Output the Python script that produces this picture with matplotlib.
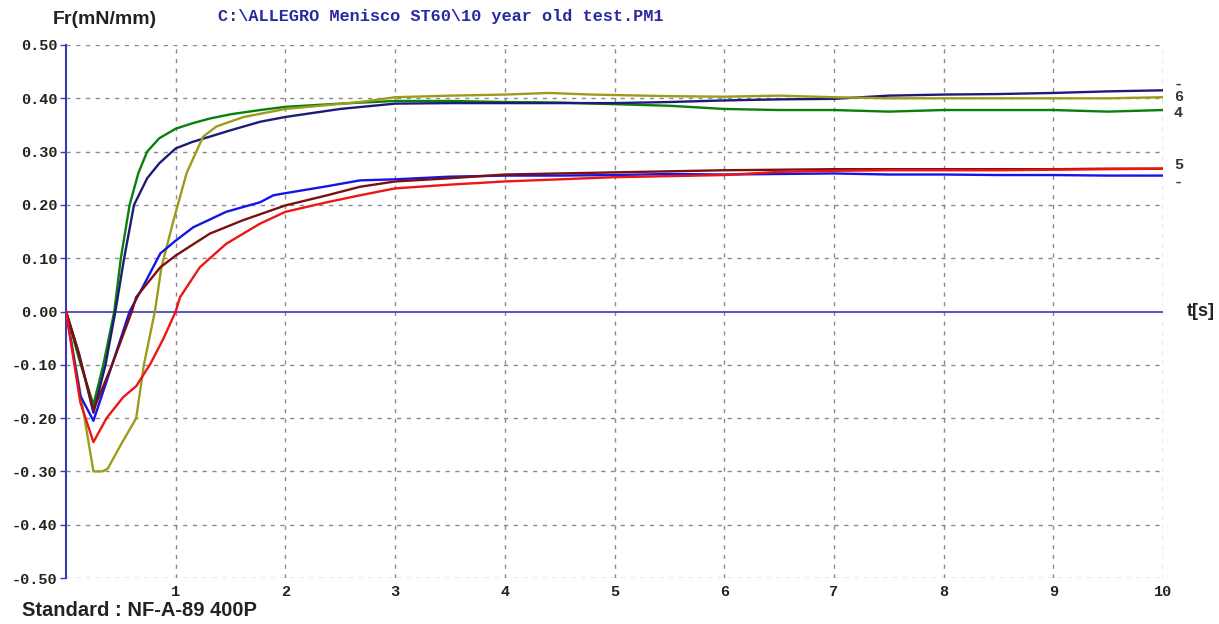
import matplotlib
matplotlib.use("Agg")
import matplotlib.pyplot as plt

# ---- data ----
t_green = [0, 0.12, 0.25, 0.34, 0.44, 0.50, 0.58, 0.66, 0.74, 0.85, 1.0, 1.15, 1.31, 1.5, 1.77, 2.0, 2.5, 3.0, 3.5, 4.0, 4.5, 5.0, 5.5, 6.0, 6.5, 7.0, 7.5, 8.0, 8.5, 9.0, 9.5, 10.0]
v_green = [0, -0.09, -0.175, -0.10, 0.0, 0.10, 0.20, 0.26, 0.30, 0.325, 0.343, 0.353, 0.362, 0.370, 0.378, 0.384, 0.390, 0.395, 0.395, 0.393, 0.392, 0.389, 0.386, 0.380, 0.378, 0.378, 0.375, 0.378, 0.378, 0.378, 0.375, 0.378]

t_navy = [0, 0.12, 0.25, 0.36, 0.45, 0.53, 0.62, 0.74, 0.85, 1.0, 1.15, 1.31, 1.5, 1.77, 2.0, 2.5, 3.0, 3.5, 4.0, 4.5, 5.0, 5.5, 6.0, 6.5, 7.0, 7.5, 8.0, 8.5, 9.0, 9.5, 10.0]
v_navy = [0, -0.08, -0.19, -0.10, 0.0, 0.10, 0.20, 0.25, 0.278, 0.306, 0.318, 0.328, 0.340, 0.356, 0.365, 0.380, 0.390, 0.391, 0.391, 0.391, 0.391, 0.393, 0.396, 0.398, 0.399, 0.405, 0.407, 0.408, 0.410, 0.413, 0.415]

t_olive = [0, 0.12, 0.25, 0.33, 0.38, 0.50, 0.64, 0.71, 0.81, 0.87, 0.98, 1.10, 1.25, 1.37, 1.62, 2.0, 2.68, 3.0, 3.5, 4.0, 4.4, 4.8, 5.5, 6.0, 6.5, 7.0, 7.5, 8.0, 8.5, 9.0, 9.5, 10.0]
v_olive = [0, -0.14, -0.30, -0.30, -0.295, -0.25, -0.20, -0.10, 0.0, 0.083, 0.171, 0.26, 0.328, 0.347, 0.365, 0.380, 0.393, 0.402, 0.405, 0.407, 0.410, 0.407, 0.404, 0.403, 0.405, 0.402, 0.400, 0.400, 0.400, 0.400, 0.400, 0.402]

t_blue = [0, 0.13, 0.25, 0.42, 0.58, 0.70, 0.86, 1.0, 1.16, 1.46, 1.77, 1.89, 2.0, 2.38, 2.68, 3.0, 3.5, 4.0, 4.5, 5.0, 5.5, 6.0, 6.5, 7.0, 7.5, 8.0, 8.5, 9.0, 9.5, 10.0]
v_blue = [0, -0.158, -0.205, -0.10, 0.0, 0.046, 0.109, 0.133, 0.158, 0.187, 0.205, 0.218, 0.222, 0.235, 0.246, 0.248, 0.253, 0.255, 0.255, 0.256, 0.258, 0.257, 0.258, 0.259, 0.257, 0.257, 0.256, 0.256, 0.255, 0.255]

t_brown = [0, 0.10, 0.25, 0.42, 0.60, 0.64, 0.86, 1.0, 1.31, 1.61, 2.0, 2.38, 2.68, 3.0, 3.5, 4.0, 4.5, 5.0, 5.5, 6.0, 6.5, 7.0, 7.5, 8.0, 8.5, 9.0, 9.5, 10.0]
v_brown = [0, -0.067, -0.185, -0.10, 0.0, 0.027, 0.083, 0.105, 0.146, 0.171, 0.199, 0.218, 0.234, 0.244, 0.250, 0.257, 0.259, 0.261, 0.263, 0.265, 0.266, 0.267, 0.267, 0.267, 0.267, 0.267, 0.268, 0.268]

t_red = [0, 0.13, 0.25, 0.37, 0.52, 0.64, 0.77, 0.89, 1.0, 1.04, 1.22, 1.46, 1.77, 2.0, 2.38, 2.68, 3.0, 3.5, 4.0, 4.5, 5.0, 5.5, 6.0, 6.5, 7.0, 7.5, 8.0, 8.5, 9.0, 9.5, 10.0]
v_red = [0, -0.17, -0.245, -0.20, -0.161, -0.14, -0.098, -0.05, 0.0, 0.027, 0.083, 0.127, 0.165, 0.187, 0.205, 0.218, 0.231, 0.238, 0.244, 0.248, 0.252, 0.254, 0.256, 0.262, 0.264, 0.265, 0.265, 0.265, 0.266, 0.267, 0.268]

x_ticks = [1, 2, 3, 4, 5, 6, 7, 8, 9, 10]
y_ticks = [-0.5, -0.4, -0.3, -0.2, -0.1, 0.0, 0.1, 0.2, 0.3, 0.4, 0.5]
y_tick_labels = ["-0.50", "-0.40", "-0.30", "-0.20", "-0.10", "0.00",
                 "0.10", "0.20", "0.30", "0.40", "0.50"]

header = "C:\\ALLEGRO Menisco ST60\\10 year old test.PM1"
y_title = "Fr(mN/mm)"
x_title = "t[s]"
footer = "Standard : NF-A-89 400P"

# ---- figure ----
fig = plt.figure(figsize=(12.19, 6.24), dpi=100)
ax = fig.add_axes([66 / 1219, 1 - 578 / 624, (1163 - 66) / 1219, (578 - 45) / 624])
ax.set_xlim(0, 10)
ax.set_ylim(-0.5, 0.5)

axis_blue = "#3a3ab0"
grid_col = "#8a8a8a"

# grid
for xv in x_ticks:
    ax.axvline(xv, color=grid_col, lw=1.0, ls=(0, (3, 4)), zorder=1)
for yv in y_ticks:
    if abs(yv) > 1e-9:
        ax.axhline(yv, color=grid_col, lw=1.0, ls=(0, (3, 4)), zorder=1)
ax.axhline(0, color=axis_blue, lw=1.2, zorder=2)

series = [
    (t_green, v_green, "#0a800a"),
    (t_navy, v_navy, "#1c1c78"),
    (t_olive, v_olive, "#9c9c1a"),
    (t_blue, v_blue, "#1515e6"),
    (t_brown, v_brown, "#7a1010"),
    (t_red, v_red, "#ee1515"),
]
for t, v, c in series:
    ax.plot(t, v, color=c, lw=1.7, zorder=3, solid_joinstyle="round")

for s in ["top", "right", "bottom"]:
    ax.spines[s].set_visible(False)
ax.spines["left"].set_color(axis_blue)
ax.spines["left"].set_linewidth(1.5)

mono = "Liberation Mono"
ax.set_yticks(y_ticks)
ax.set_yticklabels(y_tick_labels, fontfamily=mono, fontweight="bold", fontsize=11, color="#222222")
ax.set_xticks(x_ticks)
ax.set_xticklabels([str(x) for x in x_ticks], fontfamily=mono, fontweight="bold", fontsize=11, color="#222222")
ax.tick_params(axis="y", length=4, width=1, color=axis_blue, pad=2)
ax.tick_params(axis="x", length=0, pad=5)

# right-hand curve labels
end_labels = [("-", v_navy[-1] + 0.012), ("6", v_olive[-1]), ("4", v_green[-1] - 0.005),
              ("5", v_brown[-1] + 0.006), ("-", v_blue[-1] - 0.012)]
for lab, yv in end_labels:
    ax.text(1.010, yv, lab, transform=ax.get_yaxis_transform(), ha="left", va="center",
            fontfamily=mono, fontweight="bold", fontsize=11, color="#333333", clip_on=False)

fig.text(53 / 1219, 1 - 19 / 624, y_title, fontsize=14, fontfamily="Liberation Sans",
         fontweight="bold", color="#222222", ha="left", va="center")
fig.text(218 / 1219, 1 - 17 / 624, header, fontsize=12.2, fontfamily=mono,
         fontweight="bold", color="#2a2aa0", ha="left", va="center")
fig.text(1187 / 1219, 1 - 311 / 624, x_title, fontsize=13, fontfamily="Liberation Sans",
         fontweight="bold", color="#222222", ha="left", va="center")
fig.text(22 / 1219, 1 - 610 / 624, footer, fontsize=14.5, fontfamily="Liberation Sans",
         fontweight="bold", color="#222222", ha="left", va="center")

fig.savefig("out.png", dpi=100)
